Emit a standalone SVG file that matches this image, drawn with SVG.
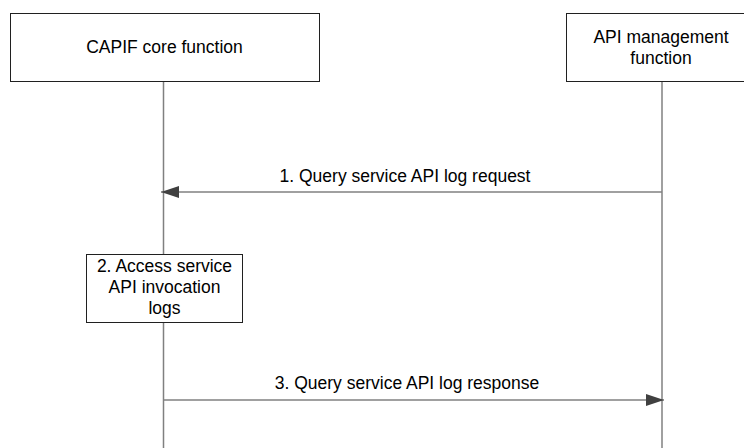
<svg xmlns="http://www.w3.org/2000/svg" width="744" height="448" viewBox="0 0 744 448">
<style>
.box{fill:#fff;stroke:#202020;stroke-width:1}
.life{stroke:#808080;stroke-width:1.5;fill:none}
.msg{stroke:#808080;stroke-width:1.5;fill:none}
.t{font-family:"Liberation Sans",Arial,sans-serif;font-size:17.5px;fill:#000;text-anchor:middle}
</style>
<defs>
<marker id="ah" markerWidth="18" markerHeight="12" refX="18" refY="6" orient="auto" markerUnits="userSpaceOnUse">
<path d="M0,0 L18,6 L0,12 Z" fill="#404040"/>
</marker>
</defs>
<g id="lifelines">
<line class="life" x1="163.5" y1="81" x2="163.5" y2="448"/>
<line class="life" x1="662" y1="81" x2="662" y2="448"/>
</g>
<g id="capif">
<rect class="box" x="10.5" y="13.5" width="309" height="68"/>
<text class="t" x="164.5" y="53">CAPIF core function</text>
</g>
<g id="apimgmt">
<rect class="box" x="566.5" y="13.5" width="192" height="68"/>
<text class="t" x="661" y="43">API management</text>
<text class="t" x="661" y="64">function</text>
</g>
<g id="step2">
<rect class="box" x="86.5" y="254.5" width="156" height="68"/>
<text class="t" x="164.5" y="272">2. Access service</text>
<text class="t" x="164.5" y="293">API invocation</text>
<text class="t" x="164.5" y="314">logs</text>
</g>
<g id="connectors">
<line class="msg" x1="662" y1="192" x2="161" y2="192" marker-end="url(#ah)"/>
<text class="t" x="405" y="182">1. Query service API log request</text>
<line class="msg" x1="163.5" y1="400" x2="664" y2="400" marker-end="url(#ah)"/>
<text class="t" x="407" y="389">3. Query service API log response</text>
</g>
</svg>
